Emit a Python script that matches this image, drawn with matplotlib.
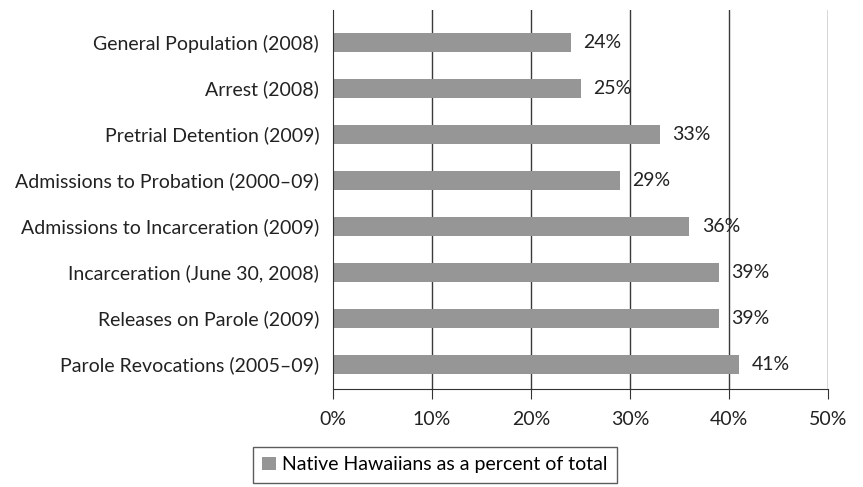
import matplotlib.pyplot as plt
from matplotlib.patches import Patch

categories = [
    'General Population (2008)',
    'Arrest (2008)',
    'Pretrial Detention (2009)',
    'Admissions to Probation (2000–09)',
    'Admissions to Incarceration (2009)',
    'Incarceration (June 30, 2008)',
    'Releases on Parole (2009)',
    'Parole Revocations (2005–09)',
]
values = [24, 25, 33, 29, 36, 39, 39, 41]
xticks = [0, 10, 20, 30, 40, 50]
xtick_labels = ['0%', '10%', '20%', '30%', '40%', '50%']
legend_label = 'Native Hawaiians as a percent of total'

plt.rcParams['font.family'] = ['Lato', 'DejaVu Sans']
bar_color = '#969696'
text_color = '#222222'

fig = plt.figure(figsize=(8.63, 4.87), dpi=100)
ax = fig.add_axes([0.386, 0.2012, 0.5734, 0.7783])

pos = list(range(len(categories)))
ax.barh(pos, values, height=0.42, color=bar_color, zorder=2)
for p, v in zip(pos, values):
    ax.annotate(f'{v}%', (v, p), xytext=(9, 0), textcoords='offset points',
                ha='left', va='center', fontsize=14, color=text_color)

ax.set_ylim(len(categories) - 1 + 0.54, -0.7)
ax.set_xlim(0, 50)
ax.set_yticks(pos)
ax.set_yticklabels(categories, fontsize=14, color=text_color)
ax.set_xticks(xticks)
ax.set_xticklabels(xtick_labels, fontsize=14, color=text_color)
ax.tick_params(axis='y', length=0, pad=10)
ax.tick_params(axis='x', length=7, direction='out', pad=9, color='#333333')

for x in xticks[1:]:
    ax.axvline(x, color='#3a3a3a', lw=1, zorder=1)

for s in ['top', 'right']:
    ax.spines[s].set_visible(False)
ax.spines['left'].set_color('#333333')
ax.spines['bottom'].set_color('#333333')

handle = Patch(facecolor=bar_color, edgecolor='none')
leg = fig.legend([handle], [legend_label], loc='upper center',
                 bbox_to_anchor=(0.504, 0.083), fontsize=14, frameon=True,
                 fancybox=False, handlelength=0.7, handleheight=0.7,
                 handletextpad=0.3, borderpad=0.5, borderaxespad=0)
leg.get_frame().set_edgecolor('#333333')
leg.get_frame().set_linewidth(1)

fig.savefig('out.png', dpi=100)
